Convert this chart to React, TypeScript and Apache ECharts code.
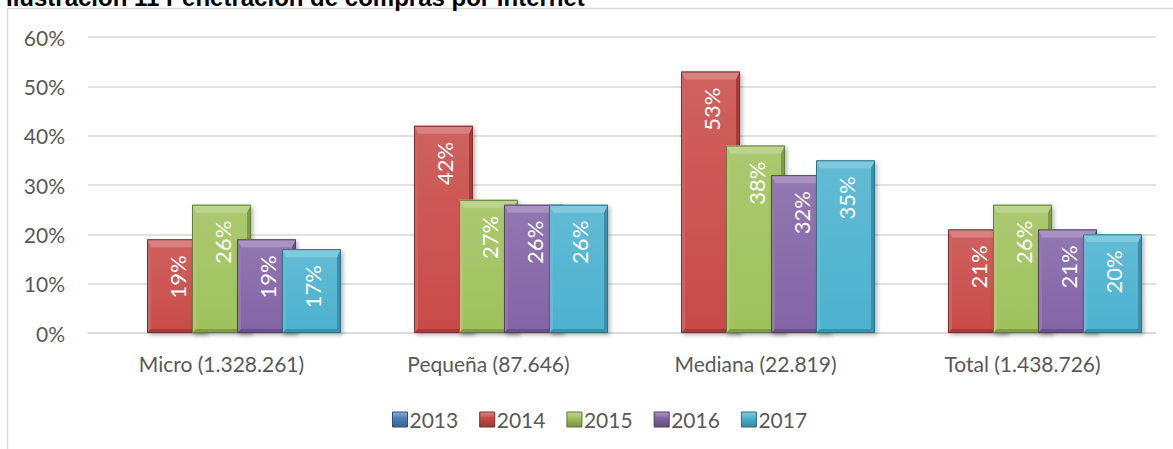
import React, { useEffect, useRef } from "react";
import * as echarts from "echarts";

const titleText = "Ilustración 11 Penetración de compras por Internet";
const categories = ["Micro (1.328.261)", "Pequeña (87.646)", "Mediana (22.819)", "Total (1.438.726)"];
const years = ["2013", "2014", "2015", "2016", "2017"];
const values2013: (number | null)[] = [null, null, null, null];
const values2014: (number | null)[] = [19, 42, 53, 21];
const values2015: (number | null)[] = [26, 27, 38, 26];
const values2016: (number | null)[] = [19, 26, 32, 21];
const values2017: (number | null)[] = [17, 26, 35, 20];
const seriesValues = [values2013, values2014, values2015, values2016, values2017];
const yMin = 0;
const yMax = 60;
const yInterval = 10;
const colors = ["#4F81BD", "#C84B48", "#9FC25C", "#8364A6", "#4CB2CF"];

const FONT = "Lato, 'Open Sans', sans-serif";
const TEXT = "#595959";

function mix(hex: string, target: number, t: number) {
  const n = parseInt(hex.slice(1), 16);
  const r = (n >> 16) & 255, g = (n >> 8) & 255, b = n & 255;
  const m = (c: number) => Math.round(c + (target - c) * t);
  return `rgb(${m(r)},${m(g)},${m(b)})`;
}

function makeRender(s: number, color: string) {
  const light = mix(color, 255, 0.3);
  const lighter = mix(color, 255, 0.12);
  const dark = mix(color, 0, 0.2);
  const darker = mix(color, 0, 0.35);
  return (params: any, api: any) => {
    const v = api.value(1);
    if (v == null || isNaN(v)) return null;
    const cat = api.value(0);
    const p0 = api.coord([cat, 0]);
    const p1 = api.coord([cat, v]);
    const band = api.size([1, 0])[0];
    const bw = (band * 59) / 267;
    const pitch = (band * 45) / 267;
    const cx = p0[0] + (s - 2) * pitch;
    const x = cx - bw / 2;
    const y = p1[1];
    const w = bw;
    const h = p0[1] - p1[1];
    const bt = 8, bs = 4, bb = 4;
    return {
      type: "group",
      children: [
        {
          type: "rect",
          shape: { x, y, width: w, height: h },
          style: {
            fill: new echarts.graphic.LinearGradient(0, 0, 0, 1, [
              { offset: 0, color: lighter },
              { offset: 1, color: color },
            ]),
            shadowBlur: 4,
            shadowOffsetX: 2,
            shadowOffsetY: 2,
            shadowColor: "rgba(0,0,0,0.3)",
          },
        },
        {
          type: "polygon",
          shape: { points: [[x, y], [x + w, y], [x + w - bs, y + bt], [x + bs, y + bt]] },
          style: { fill: light },
        },
        {
          type: "polygon",
          shape: { points: [[x, y], [x + bs, y + bt], [x + bs, y + h - bb], [x, y + h]] },
          style: { fill: lighter },
        },
        {
          type: "polygon",
          shape: { points: [[x + w, y], [x + w - bs, y + bt], [x + w - bs, y + h - bb], [x + w, y + h]] },
          style: { fill: dark },
        },
        {
          type: "polygon",
          shape: { points: [[x, y + h], [x + bs, y + h - bb], [x + w - bs, y + h - bb], [x + w, y + h]] },
          style: { fill: dark },
        },
        {
          type: "rect",
          shape: { x: x + 0.5, y: y + 0.5, width: w - 1, height: h - 1 },
          style: { fill: "none", stroke: darker, lineWidth: 1 },
        },
        {
          type: "text",
          x: cx + 1,
          y: y + 16,
          rotation: Math.PI / 2,
          style: {
            text: `${v}%`,
            fill: "#ffffff",
            fontSize: 22,
            fontFamily: FONT,
            align: "right",
            verticalAlign: "middle",
          },
        },
      ],
    };
  };
}

export default function App() {
  const ref = useRef<HTMLDivElement>(null);
  useEffect(() => {
    if (!ref.current) return;
    const chart = echarts.init(ref.current, null, { renderer: "svg" });
    const option: any = {
      animation: false,
      backgroundColor: "#ffffff",
      textStyle: { fontFamily: FONT },
      grid: { left: 88, right: 17, top: 37, bottom: 116, containLabel: false },
      graphic: [
        {
          type: "rect",
          shape: { x: 7.5, y: 8.5, width: 1300, height: 600 },
          style: { fill: "none", stroke: "#d9d9d9", lineWidth: 1.5 },
          silent: true,
        },
        {
          type: "text",
          x: 6,
          y: -3,
          style: {
            text: titleText,
            fill: "#000000",
            fontSize: 24,
            fontWeight: "bold",
            fontFamily: "'Liberation Sans', Arial, sans-serif",
            align: "left",
            verticalAlign: "middle",
          },
        },
      ],
      legend: {
        left: 392,
        top: 409,
        padding: 0,
        itemWidth: 15,
        itemHeight: 15,
        itemGap: 21,
        icon: "rect",
        textStyle: { color: TEXT, fontSize: 21, fontFamily: FONT, padding: [0, 0, 0, -3] },
        data: years.map((yr, i) => ({
          name: yr,
          itemStyle: {
            color: new echarts.graphic.LinearGradient(0, 0, 0, 1, [
              { offset: 0, color: mix(colors[i], 255, 0.35) },
              { offset: 0.4, color: colors[i] },
              { offset: 1, color: mix(colors[i], 0, 0.25) },
            ]),
            borderColor: mix(colors[i], 0, 0.4),
            borderWidth: 1,
          },
        })),
      },
      xAxis: {
        type: "category",
        data: categories,
        axisTick: { show: false },
        axisLine: { lineStyle: { color: "#d9d9d9", width: 1.5 } },
        axisLabel: { color: TEXT, fontSize: 21, fontFamily: FONT, margin: 20 },
      },
      yAxis: {
        type: "value",
        min: yMin,
        max: yMax,
        interval: yInterval,
        axisLine: { show: false },
        axisTick: { show: false },
        splitLine: { lineStyle: { color: "#d9d9d9", width: 1.5 } },
        axisLabel: { color: TEXT, fontSize: 21, fontFamily: FONT, margin: 23, formatter: "{value}%" },
      },
      series: years.map((yr, s) => ({
        name: yr,
        type: "custom",
        renderItem: makeRender(s, colors[s]),
        itemStyle: { color: colors[s] },
        encode: { x: 0, y: 1 },
        data: seriesValues[s].map((v, i) => [i, v == null ? "-" : v]),
        z: 2 + s,
      })),
    };
    chart.setOption(option);
    return () => chart.dispose();
  }, []);
  return (
    <div
      ref={ref}
      style={{ position: "absolute", left: 0, top: 0, width: 1173, height: 449 }}
    />
  );
}
